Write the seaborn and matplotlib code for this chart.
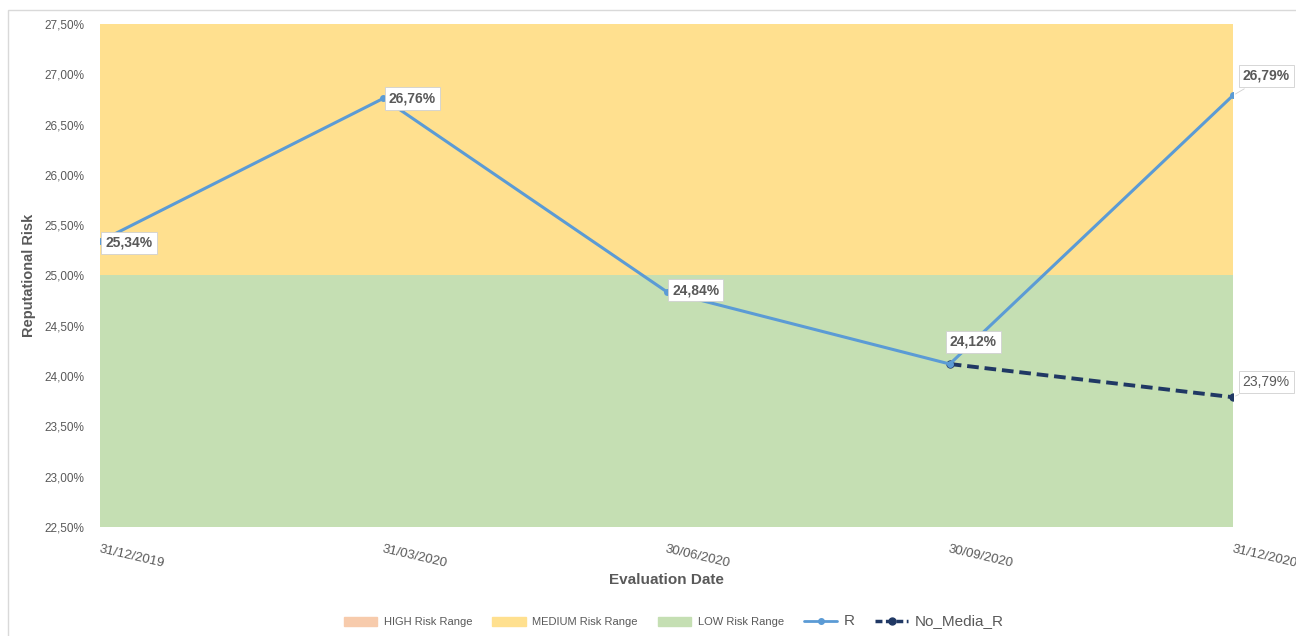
"""
Reputational risk over evaluation dates, with risk-range bands.
"""

import numpy as np
import pandas as pd
import matplotlib.pyplot as plt
import matplotlib.patches as mpatches
from matplotlib.lines import Line2D
from matplotlib.ticker import FuncFormatter
import seaborn as sns

# Data
dates = ["31/12/2019", "31/03/2020", "30/06/2020", "30/09/2020", "31/12/2020"]
r_values = [25.34, 26.76, 24.84, 24.12, 26.79]
no_media_dates = ["30/09/2020", "31/12/2020"]
no_media_values = [24.12, 23.79]

# Risk bands (lower, upper) in %
low_range = (22.5, 25.0)
medium_range = (25.0, 27.5)
high_range = (27.5, 30.0)

BLUE = "#5B9BD5"
DARK = "#203864"
YELLOW = "#FFE08F"
GREEN = "#C5DFB3"
ORANGE = "#F7CBAC"
TXT = "#595959"


def pct(v):
    return f"{v:.2f}".replace(".", ",") + "%"


def main():
    sns.set_style("white")
    plt.rcParams["font.family"] = ["Liberation Sans", "DejaVu Sans"]

    fig = plt.figure(figsize=(12.96, 6.36), dpi=100)
    ax = fig.add_axes([0.0772, 0.1714, 0.8742, 0.7909])

    # chart border
    fig.patches.append(mpatches.Rectangle((8 / 1296, -0.01), 1.0, 1 - 10 / 636 + 0.01,
                                          transform=fig.transFigure, fill=False,
                                          edgecolor="#D9D9D9", linewidth=1))

    xpos = np.arange(len(dates))
    ax.fill_between(xpos, low_range[0], low_range[1], color=GREEN, linewidth=0, zorder=0)
    ax.fill_between(xpos, medium_range[0], medium_range[1], color=YELLOW, linewidth=0, zorder=0)
    ax.fill_between(xpos, high_range[0], high_range[1], color=ORANGE, linewidth=0, zorder=0)

    df_r = pd.DataFrame({"x": xpos, "y": r_values})
    nm_x = [dates.index(d) for d in no_media_dates]
    df_nm = pd.DataFrame({"x": nm_x, "y": no_media_values})

    sns.lineplot(data=df_nm, x="x", y="y", ax=ax, color=DARK, linewidth=2.8,
                 linestyle=(0, (3, 1.5)), marker="o", markersize=6,
                 markeredgewidth=0, zorder=3)
    sns.lineplot(data=df_r, x="x", y="y", ax=ax, color=BLUE, linewidth=2.2,
                 marker="o", markersize=5, markeredgewidth=0, zorder=4)

    ax.set_xlim(0, len(dates) - 1)
    ax.set_ylim(22.5, 27.5)
    ax.set_yticks(np.arange(22.5, 27.51, 0.5))
    ax.yaxis.set_major_formatter(FuncFormatter(lambda v, p: pct(v)))
    ax.set_xticks(xpos)
    ax.set_xticklabels(dates, rotation=-13, ha="left", rotation_mode="anchor")
    ax.tick_params(axis="x", length=0, pad=12, labelsize=9.5, labelcolor=TXT)
    ax.tick_params(axis="y", length=0, pad=11, labelsize=8.5, labelcolor=TXT)
    for lab in ax.get_xticklabels():
        lab.set_horizontalalignment("left")
    for s in ax.spines.values():
        s.set_visible(False)

    ax.set_xlabel("Evaluation Date", fontsize=11, fontweight="bold", color=TXT, labelpad=2)
    ax.set_ylabel("Reputational Risk", fontsize=10.5, fontweight="bold", color=TXT, labelpad=6)

    # data labels
    box = dict(boxstyle="square,pad=0.3", fc="white", ec="#D0D0D0", lw=0.6)
    offsets = [(4, -1), (4, 0), (4, 1), (0, 16), (7, 14)]
    for i, (v, off) in enumerate(zip(r_values, offsets)):
        ax.annotate(pct(v), (xpos[i], v), xytext=off, textcoords="offset points",
                    ha="left", va="center", fontsize=10, fontweight="bold", color=TXT,
                    bbox=box, zorder=6, annotation_clip=False,
                    arrowprops=dict(arrowstyle="-", color="#D0D0D0", lw=0.6) if i == 4 else None)
    ax.annotate(pct(no_media_values[-1]), (nm_x[-1], no_media_values[-1]), xytext=(7, 11),
                textcoords="offset points", ha="left", va="center", fontsize=10,
                color=TXT, bbox=box, zorder=6, annotation_clip=False,
                arrowprops=dict(arrowstyle="-", color="#D0D0D0", lw=0.6))

    handles = [
        mpatches.Patch(color=ORANGE, label="HIGH Risk Range"),
        mpatches.Patch(color=YELLOW, label="MEDIUM Risk Range"),
        mpatches.Patch(color=GREEN, label="LOW Risk Range"),
        Line2D([], [], color=BLUE, lw=2, marker="o", markersize=4, label="R"),
        Line2D([], [], color=DARK, lw=2.5, ls=(0, (2, 1)), marker="o", markersize=5,
               label="No_Media_R"),
    ]
    leg = fig.legend(handles=handles, loc="center", bbox_to_anchor=(0.52, 0.023), ncol=5,
                     frameon=False, fontsize=8, handlelength=3, handleheight=0.8,
                     columnspacing=1.8, handletextpad=0.6)
    for t in leg.get_texts():
        t.set_color(TXT)
    leg.get_texts()[3].set_fontsize(11)
    leg.get_texts()[4].set_fontsize(11)

    fig.savefig("out.png", dpi=100)


if __name__ == "__main__":
    main()
